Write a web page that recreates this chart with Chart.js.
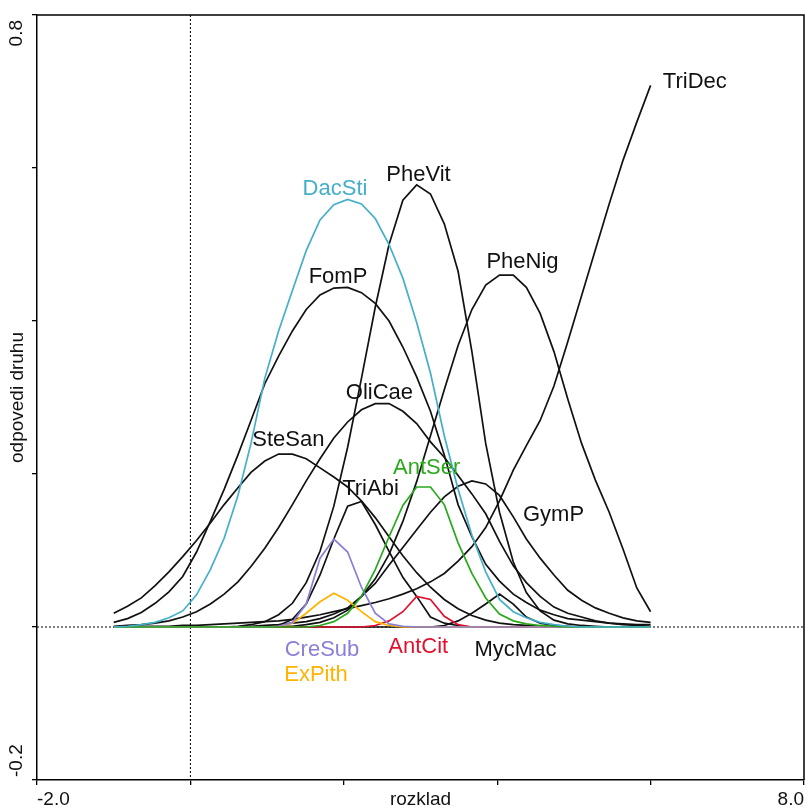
<!DOCTYPE html>
<html>
<head>
<meta charset="utf-8">
<script src="https://cdn.jsdelivr.net/npm/chart.js@4"></script>
<style>
  html, body { margin: 0; padding: 0; background: #fff; }
</style>
</head>
<body>
<canvas id="myChart" width="805" height="809"></canvas>
<script>
// sample positions along the gradient (rozklad)
const xs = [-1.00, -0.82, -0.64, -0.46, -0.28, -0.10, 0.08, 0.26, 0.44, 0.62,
  0.79, 0.97, 1.15, 1.33, 1.51, 1.69, 1.87, 2.05, 2.23, 2.41,
  2.59, 2.77, 2.95, 3.13, 3.31, 3.49, 3.67, 3.85, 4.03, 4.21,
  4.38, 4.56, 4.74, 4.92, 5.10, 5.28, 5.46, 5.64, 5.82, 6.00];

// species responses (odpovedi druhu)
const dacSti = [0, 0.001, 0.003, 0.006, 0.012, 0.021, 0.042, 0.075, 0.116, 0.172,
  0.240, 0.325, 0.387, 0.440, 0.492, 0.532, 0.552, 0.559, 0.553, 0.534,
  0.500, 0.456, 0.398, 0.332, 0.250, 0.180, 0.120, 0.072, 0.036, 0.020,
  0.012, 0.006, 0.003, 0.001, 0, 0, 0, 0, 0, 0];
const antSer = [0, 0, 0, 0, 0, 0, 0, 0, 0, 0,
  0, 0, 0, 0, 0, 0.002, 0.007, 0.018, 0.040, 0.075,
  0.118, 0.159, 0.183, 0.183, 0.160, 0.110, 0.070, 0.038, 0.017, 0.008,
  0.004, 0.002, 0.001, 0, 0, 0, 0, 0, 0, 0];
const creSub = [0, 0, 0, 0, 0, 0, 0, 0, 0, 0,
  0, 0, 0.001, 0.006, 0.030, 0.090, 0.115, 0.098, 0.052, 0.018,
  0.004, 0.001, 0, 0, 0, 0, 0, 0, 0, 0,
  0, 0, 0, 0, 0, 0, 0, 0, 0, 0];
const exPith = [0, 0, 0, 0, 0, 0, 0, 0, 0, 0,
  0, 0, 0.001, 0.005, 0.018, 0.033, 0.044, 0.035, 0.020, 0.007,
  0.002, 0, 0, 0, 0, 0, 0, 0, 0, 0,
  0, 0, 0, 0, 0, 0, 0, 0, 0, 0];
const antCit = [0, 0, 0, 0, 0, 0, 0, 0, 0, 0,
  0, 0, 0, 0, 0, 0, 0, 0, 0, 0.002,
  0.008, 0.020, 0.040, 0.036, 0.014, 0.003, 0, 0, 0, 0,
  0, 0, 0, 0, 0, 0, 0, 0, 0, 0];
const triDec = [0, 0, 0.001, 0.001, 0.001, 0.002, 0.002, 0.003, 0.004, 0.005,
  0.006, 0.007, 0.008, 0.010, 0.013, 0.016, 0.020, 0.024, 0.028, 0.032,
  0.037, 0.043, 0.050, 0.059, 0.070, 0.086, 0.105, 0.130, 0.165, 0.205,
  0.237, 0.270, 0.315, 0.373, 0.433, 0.493, 0.553, 0.610, 0.660, 0.708];
const pheVit = [0, 0, 0, 0, 0, 0, 0, 0, 0, 0.001,
  0.003, 0.007, 0.016, 0.031, 0.058, 0.099, 0.158, 0.235, 0.325, 0.418,
  0.500, 0.558, 0.578, 0.566, 0.527, 0.465, 0.360, 0.240, 0.150, 0.085,
  0.045, 0.021, 0.009, 0.004, 0.002, 0.001, 0, 0, 0, 0];
const fomP = [0.006, 0.011, 0.019, 0.031, 0.046, 0.066, 0.098, 0.138, 0.180, 0.225,
  0.270, 0.318, 0.354, 0.387, 0.415, 0.434, 0.443, 0.444, 0.437, 0.423,
  0.400, 0.366, 0.327, 0.282, 0.225, 0.160, 0.118, 0.082, 0.060, 0.043,
  0.032, 0.022, 0.016, 0.011, 0.009, 0.007, 0.005, 0.004, 0.003, 0.003];
const pheNig = [0, 0, 0, 0, 0, 0, 0, 0, 0, 0,
  0, 0, 0.001, 0.001, 0.003, 0.006, 0.012, 0.022, 0.040, 0.063,
  0.095, 0.138, 0.190, 0.250, 0.310, 0.368, 0.415, 0.447, 0.460, 0.460,
  0.444, 0.410, 0.360, 0.298, 0.240, 0.192, 0.150, 0.102, 0.051, 0.020];
const oliCae = [0.001, 0.002, 0.003, 0.005, 0.008, 0.013, 0.020, 0.030, 0.043, 0.059,
  0.079, 0.103, 0.130, 0.160, 0.191, 0.220, 0.247, 0.268, 0.284, 0.292,
  0.292, 0.282, 0.266, 0.242, 0.222, 0.198, 0.174, 0.148, 0.112, 0.080,
  0.058, 0.040, 0.026, 0.018, 0.013, 0.008, 0.005, 0.003, 0.002, 0.001];
const steSan = [0.018, 0.027, 0.038, 0.054, 0.072, 0.092, 0.113, 0.136, 0.160, 0.182,
  0.202, 0.217, 0.226, 0.226, 0.220, 0.208, 0.196, 0.183, 0.165, 0.143,
  0.118, 0.093, 0.071, 0.052, 0.036, 0.024, 0.015, 0.009, 0.005, 0.003,
  0.002, 0.001, 0, 0, 0, 0, 0, 0, 0, 0];
const triAbi = [0, 0, 0, 0, 0, 0, 0, 0, 0, 0,
  0, 0.001, 0.002, 0.010, 0.030, 0.068, 0.115, 0.158, 0.164, 0.134,
  0.099, 0.065, 0.040, 0.013, 0.005, 0.002, 0, 0, 0, 0,
  0, 0, 0, 0, 0, 0, 0, 0, 0, 0];
const gymP = [0, 0, 0, 0, 0, 0, 0, 0, 0, 0,
  0.001, 0.002, 0.003, 0.005, 0.007, 0.011, 0.017, 0.025, 0.040, 0.057,
  0.081, 0.104, 0.127, 0.150, 0.170, 0.184, 0.191, 0.187, 0.172, 0.144,
  0.115, 0.090, 0.068, 0.048, 0.035, 0.025, 0.018, 0.012, 0.008, 0.006];
const mycMac = [0, 0, 0, 0, 0, 0, 0, 0, 0, 0,
  0, 0, 0, 0, 0, 0, 0, 0, 0, 0,
  0, 0, 0, 0, 0.002, 0.008, 0.018, 0.030, 0.043, 0.030,
  0.013, 0.005, 0.002, 0.001, 0, 0, 0, 0, 0, 0];

// only the axis ends carry a label
const xTickLabels = ["-2.0", "8.0"];
const yTickLabels = ["0.8", "-0.2"];

const FONT = "'Liberation Sans', Arial, sans-serif";
const INK = "#111";

// name, values, colour, label anchor (data units)
const series = [
  { name: "DacSti", values: dacSti, color: "#45afc9", at: [1.885, 0.573] },
  { name: "AntSer", values: antSer, color: "#2aa81e", at: [3.08, 0.208] },
  { name: "CreSub", values: creSub, color: "#8a7fd6", at: [1.716, -0.030] },
  { name: "ExPith", values: exPith, color: "#ffb300", at: [1.638, -0.063] },
  { name: "AntCit", values: antCit, color: "#e2102e", at: [2.97, -0.026] },
  { name: "TriDec", values: triDec, color: INK, at: [6.16, 0.712], align: "left" },
  { name: "PheVit", values: pheVit, color: INK, at: [2.974, 0.591] },
  { name: "FomP", values: fomP, color: INK, at: [1.924, 0.457] },
  { name: "PheNig", values: pheNig, color: INK, at: [4.33, 0.477] },
  { name: "OliCae", values: oliCae, color: INK, at: [2.465, 0.306] },
  { name: "SteSan", values: steSan, color: INK, at: [1.277, 0.244] },
  { name: "TriAbi", values: triAbi, color: INK, at: [2.348, 0.181] },
  { name: "GymP", values: gymP, color: INK, at: [4.734, 0.146] },
  { name: "MycMac", values: mycMac, color: INK, at: [4.238, -0.030] },
];

const toPoints = (values) => values.map((v, i) => ({ x: xs[i], y: v }));

const decorations = {
  id: "decorations",
  beforeDatasetsDraw(chart) {
    const { ctx, chartArea: a, scales: { x, y } } = chart;
    const x0 = x.getPixelForValue(0);
    const y0 = y.getPixelForValue(0);
    ctx.save();
    ctx.strokeStyle = "#000";
    ctx.lineWidth = 1;
    ctx.setLineDash([2, 2]);
    ctx.beginPath();
    ctx.moveTo(x0, a.top);
    ctx.lineTo(x0, a.bottom);
    ctx.moveTo(a.left, y0);
    ctx.lineTo(a.right, y0);
    ctx.stroke();
    ctx.restore();
  },
  afterDatasetsDraw(chart) {
    const { ctx, chartArea: a, scales: { x, y } } = chart;
    ctx.save();
    // top + right side of the frame
    ctx.strokeStyle = "#000";
    ctx.lineWidth = 1.5;
    ctx.beginPath();
    ctx.moveTo(a.left, a.top);
    ctx.lineTo(a.right, a.top);
    ctx.lineTo(a.right, a.bottom);
    ctx.stroke();

    // species names
    ctx.font = "22px " + FONT;
    ctx.textBaseline = "middle";
    series.forEach((s) => {
      ctx.fillStyle = s.color;
      ctx.textAlign = s.align || "center";
      ctx.fillText(s.name, x.getPixelForValue(s.at[0]), y.getPixelForValue(s.at[1]));
    });

    // rotated y tick labels at the two ends
    ctx.font = "19px " + FONT;
    ctx.fillStyle = INK;
    ctx.save();
    ctx.translate(17, y.getPixelForValue(0.8) + 5);
    ctx.rotate(-Math.PI / 2);
    ctx.textAlign = "right";
    ctx.fillText(yTickLabels[0], 0, 0);
    ctx.restore();
    ctx.save();
    ctx.translate(17, y.getPixelForValue(-0.2) - 3);
    ctx.rotate(-Math.PI / 2);
    ctx.textAlign = "left";
    ctx.fillText(yTickLabels[1], 0, 0);
    ctx.restore();
    ctx.restore();
  },
};

const ctx = document.getElementById("myChart");

new Chart(ctx, {
  type: "line",
  data: {
    datasets: series.map((s) => ({
      label: s.name,
      data: toPoints(s.values),
      borderColor: s.color,
      borderWidth: 1.7,
      pointRadius: 0,
      fill: false,
      tension: 0,
    })),
  },
  options: {
    responsive: false,
    animation: false,
    devicePixelRatio: 1,
    events: [],
    layout: {
      padding: { top: 15, right: 1, left: 0, bottom: 0 },
    },
    plugins: {
      legend: { display: false },
      tooltip: { enabled: false },
    },
    scales: {
      x: {
        type: "linear",
        min: -2,
        max: 8,
        afterFit: (s) => { s.height = 29; },
        border: { display: true, color: "#000", width: 1.5 },
        grid: { drawOnChartArea: false, drawTicks: true, tickLength: 5, color: "#000", lineWidth: 1.3 },
        ticks: {
          stepSize: 2,
          align: "inner",
          padding: 0,
          maxRotation: 0,
          autoSkip: false,
          color: INK,
          font: { family: FONT, size: 19, lineHeight: 1.6 },
          callback: (v) => (v === -2 ? xTickLabels[0] : v === 8 ? xTickLabels[1] : ""),
        },
        title: {
          display: true,
          text: "rozklad",
          color: INK,
          font: { family: FONT, size: 19, lineHeight: 1 },
          padding: 0,
        },
      },
      y: {
        type: "linear",
        min: -0.2,
        max: 0.8,
        afterFit: (s) => { s.width = 37; },
        border: { display: true, color: "#000", width: 1.5 },
        grid: { drawOnChartArea: false, drawTicks: true, tickLength: 5, color: "#000", lineWidth: 1.3 },
        ticks: { stepSize: 0.2, display: false },
        title: {
          display: true,
          text: "odpovedi druhu",
          color: INK,
          font: { family: FONT, size: 19 },
          padding: { top: 6, bottom: 0 },
        },
      },
    },
  },
  plugins: [decorations],
});
</script>
</body>
</html>
